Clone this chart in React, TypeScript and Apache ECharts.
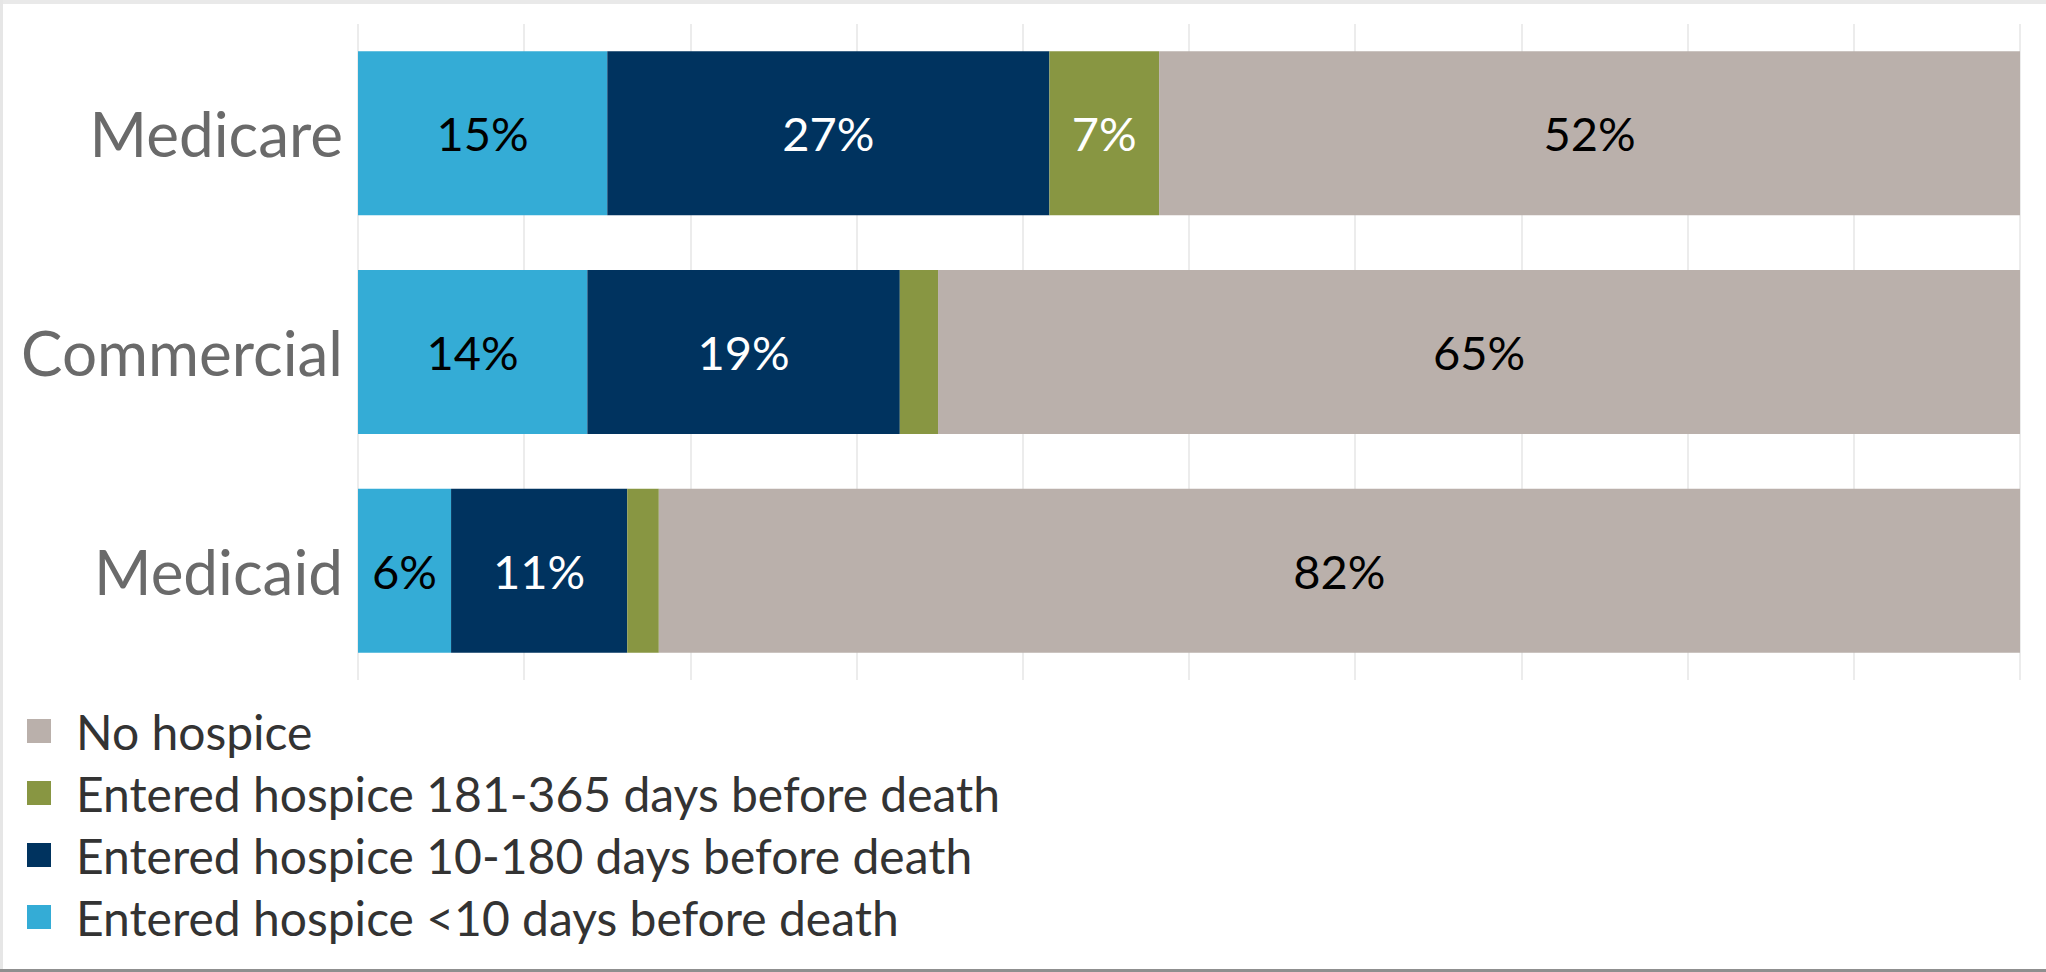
import React, { useEffect, useRef } from "react";
import * as echarts from "echarts";

const categories = ["Medicare", "Commercial", "Medicaid"];
const seriesNames = [
  "Entered hospice <10 days before death",
  "Entered hospice 10-180 days before death",
  "Entered hospice 181-365 days before death",
  "No hospice",
];
const under10Days = [15.0, 13.8, 5.6];
const days10to180 = [26.6, 18.8, 10.6];
const days181to365 = [6.6, 2.3, 1.9];
const noHospice = [51.8, 65.1, 81.9];
const legendOrder = [
  "No hospice",
  "Entered hospice 181-365 days before death",
  "Entered hospice 10-180 days before death",
  "Entered hospice <10 days before death",
];

const colors = ["#34acd6", "#00335f", "#889642", "#bab0ab"];
const labelColors = ["#000000", "#ffffff", "#ffffff", "#000000"];
const FONT = "Lato";

export default function App() {
  const ref = useRef<HTMLDivElement>(null);
  useEffect(() => {
    document.body.style.margin = "0";
    if (!ref.current) return;
    const chart = echarts.init(ref.current, null, { renderer: "svg" });
    const values = [under10Days, days10to180, days181to365, noHospice];
    chart.setOption({
      animation: false,
      backgroundColor: "#ffffff",
      textStyle: { fontFamily: FONT },
      grid: { left: 358, top: 24, width: 1662, height: 656, containLabel: false },
      xAxis: {
        type: "value",
        min: 0,
        max: 100,
        interval: 10,
        axisLabel: { show: false },
        axisLine: { show: false },
        axisTick: { show: false },
        splitLine: { show: true, lineStyle: { color: "#ececec", width: 2 } },
      },
      yAxis: {
        type: "category",
        data: categories,
        inverse: true,
        axisLine: { show: false },
        axisTick: { show: false },
        splitLine: { show: false },
        axisLabel: { fontSize: 62, color: "#6a6a6a", margin: 15, fontFamily: FONT },
      },
      legend: {
        data: legendOrder,
        orient: "vertical",
        left: 22,
        top: 702,
        itemWidth: 24,
        itemHeight: 24,
        itemGap: 14,
        icon: "rect",
        selectedMode: false,
        textStyle: {
          fontSize: 48,
          lineHeight: 48,
          color: "#333333",
          fontFamily: FONT,
          padding: [0, 0, 0, 20],
        },
      },
      series: seriesNames.map((name, i) => ({
        name,
        type: "bar",
        stack: "total",
        barWidth: "75%",
        data: values[i],
        itemStyle: { color: colors[i] },
        label: {
          show: true,
          position: "inside",
          fontSize: 47,
          fontFamily: FONT,
          color: labelColors[i],
          formatter: (p: any) => (p.value >= 5 ? Math.round(p.value) + "%" : ""),
        },
      })),
      graphic: [
        { type: "rect", shape: { x: 0, y: 0, width: 2046, height: 4 }, style: { fill: "#e9e9e9" }, silent: true },
        { type: "rect", shape: { x: 0, y: 0, width: 3, height: 972 }, style: { fill: "#e6e6e6" }, silent: true },
        { type: "rect", shape: { x: 0, y: 969, width: 2046, height: 3 }, style: { fill: "#8f8f8f" }, silent: true },
      ],
    });
    return () => chart.dispose();
  }, []);
  return <div ref={ref} style={{ width: 2046, height: 972 }} />;
}
